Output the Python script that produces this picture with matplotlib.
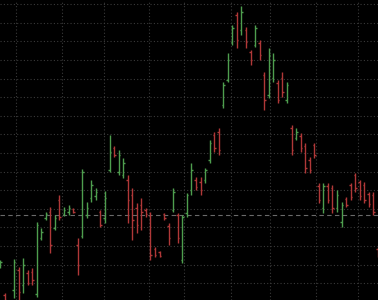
import numpy as np
import matplotlib
matplotlib.use('Agg')
import matplotlib.pyplot as plt

# OHLC bars (arbitrary price units)
opens = [34, 5, -4, 10, 30, 15, 27, 28, 6, 62, 82, 88, 72, 100, 86, 88, 91, 55, 64, 85,
         102, 104, 88, 82, 130, 152, 128, 125, 120, 105, 92, 95, 90, 85, 51, 48, 86, 74, 90, 85,
         40, 87, 110, 120, 118, 120, 140, 165, 168, 195, 220, 258, 285, 270, 270, 248, 255, 257, 225, 205,
         222, 217, 222, 200, 172, 162, 164, 154, 140, 155, 114, 92, 114, 112, 92, 78, 101, 115, 125, 118,
         115, 106, 105, 51]
highs = [40, 7, -2, 41, 33, 42, 30, 32, 78, 72, 88, 93, 85, 105, 93, 95, 92, 62, 131, 98,
         120, 112, 90, 109, 165, 154, 150, 142, 125, 112, 97, 102, 92, 88, 53, 49, 87, 77, 112, 87,
         85, 107, 137, 123, 123, 132, 160, 168, 172, 218, 247, 275, 288, 294, 273, 250, 275, 260, 228, 252,
         247, 220, 228, 218, 175, 172, 167, 157, 143, 157, 117, 117, 117, 115, 110, 98, 103, 117, 127, 120,
         118, 108, 108, 53]
lows = [32, -5, -12, 2, -2, 7, 15, 15, 3, 60, 80, 47, 70, 80, 84, 85, 87, 25, 62, 82,
        98, 100, 73, 77, 128, 143, 125, 122, 77, 60, 67, 70, 83, 40, 43, 43, 80, 55, 88, 57,
        37, 83, 105, 110, 105, 117, 137, 148, 145, 192, 218, 255, 252, 265, 252, 235, 253, 240, 190, 202,
        218, 197, 203, 197, 145, 160, 148, 127, 127, 142, 97, 87, 97, 87, 88, 73, 93, 100, 108, 100,
        97, 93, 85, 43]
closes = [38, 0, -10, 38, 8, 35, 17, 20, 75, 68, 86, 55, 82, 83, 90, 92, 88, 35, 128, 92,
          115, 108, 75, 102, 148, 145, 145, 137, 100, 80, 75, 88, 86, 45, 45, 44, 82, 62, 108, 62,
          83, 105, 130, 113, 110, 130, 157, 152, 150, 215, 240, 272, 260, 288, 258, 240, 272, 245, 200, 245,
          240, 200, 208, 215, 150, 168, 152, 132, 130, 145, 100, 114, 100, 92, 105, 95, 95, 103, 112, 104,
          100, 96, 88, 45]

last_price = 85
month_lines = [3.45, 13.56, 22.79, 32.68, 40.37, 50.7, 59.27, 69.38, 78.62]
price_lines = [295.9 - 18.6 * k for k in range(16)]

opens = np.array(opens)
highs = np.array(highs)
lows = np.array(lows)
closes = np.array(closes)
x = np.arange(len(opens))

up_color = '#4e9e4e'
down_color = '#b03838'
colors = [up_color if c >= o else down_color for o, c in zip(opens, closes)]

fig = plt.figure(figsize=(3.78, 3.0), dpi=100, facecolor='black')
ax = fig.add_axes([0, 0, 1, 1])
ax.set_facecolor('black')

for xv in month_lines:
    ax.axvline(xv, color='#3a3a3a', lw=0.8, ls=(0, (1, 2)), zorder=0)
for yv in price_lines:
    ax.axhline(yv, color='#3a3a3a', lw=0.8, ls=(0, (1, 2)), zorder=0)
ax.axhline(last_price, color='#6a6a6a', lw=0.8, ls=(0, (4, 3)), zorder=1)

tick = 0.32
ax.vlines(x, lows, highs, colors=colors, lw=1.0, zorder=2)
ax.hlines(opens, x - tick, x, colors=colors, lw=1.0, zorder=2)
ax.hlines(closes, x, x + tick, colors=colors, lw=1.0, zorder=2)

ax.set_xlim(-0.066, -0.066 + 378 / 4.55)
ax.set_ylim(0, 300)
ax.axis('off')

plt.savefig('out.png', dpi=100, facecolor='black')
